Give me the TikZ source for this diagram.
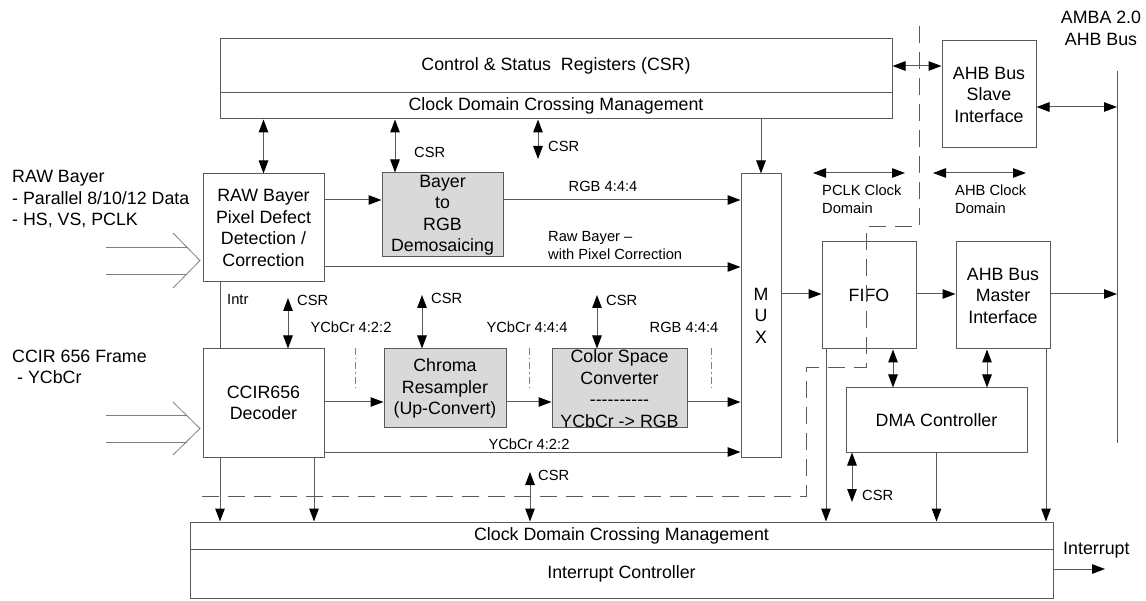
\documentclass[tikz,border=0pt]{standalone}
\usepackage{fontspec}
\setmainfont{Liberation Sans}
\usetikzlibrary{arrows.meta, calc}
\definecolor{linegray}{HTML}{5A5A5A}
\definecolor{boxfill}{HTML}{D9D9D9}
\newcommand{\bigfont}{\fontsize{17.8}{21.5}\selectfont}
\newcommand{\smallfont}{\fontsize{14.7}{18}\selectfont}
\newcommand{\dashrow}{\mbox{-}\mbox{-}\mbox{-}\mbox{-}\mbox{-}\mbox{-}\mbox{-}\mbox{-}\mbox{-}\mbox{-}}
\tikzset{>={Triangle[width=9.5pt,length=13pt,color=black]}}
\tikzset{
  blk/.style={draw=linegray, line width=1pt, fill=white, inner sep=0pt, align=center, font=\bigfont},
  gblk/.style={blk, fill=boxfill},
  wire/.style={draw=linegray, line width=1pt},
  lbl/.style={inner sep=0pt, font=\smallfont, align=left},
  biglbl/.style={inner sep=0pt, font=\bigfont, align=left},
  clkline/.style={draw=linegray, line width=1pt, dash pattern=on 17pt off 9pt},
  stageline/.style={draw=gray, line width=0.8pt, dash pattern=on 7pt off 3pt on 1.5pt off 3pt},
  inline/.style={draw=gray, line width=0.8pt},
}

\begin{document}
\begin{tikzpicture}[x=1pt, y=-1pt]
  \fill[white] (0,0) rectangle (1146,601);
  \useasboundingbox (0,0) rectangle (1146,601);

  \node[blk, minimum width=672pt, minimum height=54pt] (CSR) at (556,66) {Control \& Status\ \ Registers (CSR)};
  \node[blk, minimum width=672pt, minimum height=26pt] (CDC) at (556,106) {Clock Domain Crossing Management};
  \node[blk, minimum width=94pt, minimum height=107pt] (SLAVE) at (989,94.5) {AHB Bus\\Slave\\Interface};
  \node[blk, minimum width=121pt, minimum height=108pt] (RAW) at (263.5,228) {RAW Bayer\\Pixel Defect\\Detection /\\Correction};
  \node[gblk, minimum width=121pt, minimum height=84pt] (BAYER) at (442.5,215) {Bayer\\to\\RGB\\Demosaicing};
  \node[blk, minimum width=40pt, minimum height=283pt] (MUX) at (761,315.5) {M\\U\\X};
  \node[blk, minimum width=121pt, minimum height=108pt] (CCIR) at (263.5,403) {CCIR656\\Decoder};
  \node[gblk, minimum width=122pt, minimum height=79pt] (CHROMA) at (445,388.5) {Chroma\\Resampler\\(Up-Convert)};
  \node[gblk, minimum width=135pt, minimum height=79pt] (CSC) at (619.5,388.5) {Color Space\\Converter\\\dashrow\\YCbCr -> RGB};
  \node[blk, minimum width=94pt, minimum height=107pt] (FIFO) at (869,295.5) {FIFO};
  \node[blk, minimum width=94pt, minimum height=107pt] (MASTER) at (1003,295.5) {AHB Bus\\Master\\Interface};
  \node[blk, minimum width=181pt, minimum height=64pt] (DMA) at (936.5,420) {DMA Controller};
  \node[blk, minimum width=863pt, minimum height=27pt] (ICDC) at (621.5,535.5) {Clock Domain Crossing Management};
  \node[blk, minimum width=863pt, minimum height=49pt] (INTC) at (621.5,573.5) {Interrupt Controller};

  \coordinate (BUST) at (1117,71);
  \coordinate (BUSB) at (1117,443);
  \draw[wire] (BUST) -- (BUSB);

  \draw[wire, <->] (CSR.east) -- (SLAVE.west |- CSR.east);
  \draw[wire, <->] (SLAVE.east |- 0,107) -- (BUST |- 0,107);
  \draw[wire, <->] (RAW.north) -- (RAW.north |- CDC.south);
  \draw[wire, <->] (BAYER.north -| 395,0) -- (CDC.south -| 395,0);
  \draw[wire, <->] (CDC.south -| 538,0) -- (538,159);
  \draw[wire, ->] (MUX.north |- CDC.south) -- (MUX.north);

  \draw[wire, ->] (RAW.east |- 0,200) -- (BAYER.west |- 0,200);
  \draw[wire, ->] (BAYER.east |- 0,200) -- (MUX.west |- 0,200);
  \draw[wire, ->] (RAW.east |- 0,267) -- (MUX.west |- 0,267);
  \draw[wire] (RAW.south -| 220,0) -- (CCIR.north -| 220,0);
  \draw[wire, <->] (288,298) -- (CCIR.north -| 288,0);

  \draw[wire, ->] (CCIR.east |- 0,402) -- (CHROMA.west |- 0,402);
  \draw[wire, ->] (CHROMA.east |- 0,402) -- (CSC.west |- 0,402);
  \draw[wire, ->] (CSC.east |- 0,402) -- (MUX.west |- 0,402);
  \draw[wire, ->] (CCIR.east |- 0,452) -- (MUX.west |- 0,452);
  \draw[wire, <->] (422,295) -- (CHROMA.north -| 422,0);
  \draw[wire, <->] (597,295) -- (CSC.north -| 597,0);

  \draw[wire, ->] (CCIR.south -| 220,0) -- (ICDC.north -| 220,0);
  \draw[wire, ->] (CCIR.south -| 314,0) -- (ICDC.north -| 314,0);
  \draw[wire, <->] (530,472) -- (ICDC.north -| 530,0);

  \draw[wire, ->] (MUX.east |- 0,294) -- (FIFO.west |- 0,294);
  \draw[wire, ->] (FIFO.east |- 0,294) -- (MASTER.west |- 0,294);
  \draw[wire, ->] (MASTER.east |- 0,294) -- (BUST |- 0,294);
  \draw[wire, <->] (FIFO.south -| 893,0) -- (DMA.north -| 893,0);
  \draw[wire, <->] (MASTER.south -| 987,0) -- (DMA.north -| 987,0);
  \draw[wire, ->] (FIFO.south -| 826,0) -- (ICDC.north -| 826,0);
  \draw[wire, ->] (DMA.south) -- (DMA.south |- ICDC.north);
  \draw[wire, ->] (MASTER.south -| 1046,0) -- (ICDC.north -| 1046,0);
  \draw[wire, <->] (DMA.south -| 852,0) -- (852,502);
  \draw[wire, ->] (INTC.east |- 0,569) -- (1105,569);

  \draw[wire, <->] (813,173) -- (905,173);
  \draw[wire, <->] (933,173) -- (1026,173);

  \draw[clkline] (919,26) -- (919,227) -- (866,227) -- (866,368) -- (806,368) -- (806,496) -- (193,496);
  \foreach \x in {355,529,711}
    \draw[stageline] (\x,348) -- (\x,388);

  \draw[inline] (106,247) -- (187,247);
  \draw[inline] (106,274) -- (187,274);
  \draw[inline] (173,233) -- (200,260.5) -- (173,288);
  \draw[inline] (106,415) -- (187,415);
  \draw[inline] (106,442) -- (187,442);
  \draw[inline] (173,402) -- (200,428.5) -- (173,455);

  \node[biglbl, anchor=west] (RAWIN) at (12,199.5) {RAW Bayer\\- Parallel 8/10/12 Data\\- HS, VS, PCLK};
  \node[biglbl, anchor=west] (CCIRIN) at (12,367) {CCIR 656 Frame\\\hspace*{5pt}- YCbCr};
  \node[biglbl, align=center] (AMBA) at (1101,28.5) {AMBA 2.0\\AHB Bus};
  \node[biglbl, anchor=west] (INTR) at (1063,550) {Interrupt};

  \node[lbl, anchor=west] (LCSRA) at (414,152) {CSR};
  \node[lbl, anchor=west] (LCSRB) at (548,146) {CSR};
  \node[lbl] (LRGBA) at (603,186) {RGB 4:4:4};
  \node[lbl, anchor=west] (LRAW) at (548,246) {Raw Bayer --\\with Pixel Correction};
  \node[lbl, anchor=west] (LINTR) at (227,300) {Intr};
  \node[lbl, anchor=west] (LCSRC) at (297,300) {CSR};
  \node[lbl] (LYCA) at (351,327) {YCbCr 4:2:2};
  \node[lbl, anchor=west] (LCSRD) at (431,298) {CSR};
  \node[lbl] (LYCB) at (527,327) {YCbCr 4:4:4};
  \node[lbl, anchor=west] (LCSRE) at (606,300) {CSR};
  \node[lbl] (LRGBB) at (684,327) {RGB 4:4:4};
  \node[lbl] (LYCC) at (529,444) {YCbCr 4:2:2};
  \node[lbl, anchor=west] (LCSRF) at (538,475) {CSR};
  \node[lbl, anchor=west] (LCSRG) at (862,495) {CSR};
  \node[lbl, anchor=west] (LPCLK) at (822,199.5) {PCLK Clock\\Domain};
  \node[lbl, anchor=west] (LAHB) at (955,199.5) {AHB Clock\\Domain};
\end{tikzpicture}
\end{document}
